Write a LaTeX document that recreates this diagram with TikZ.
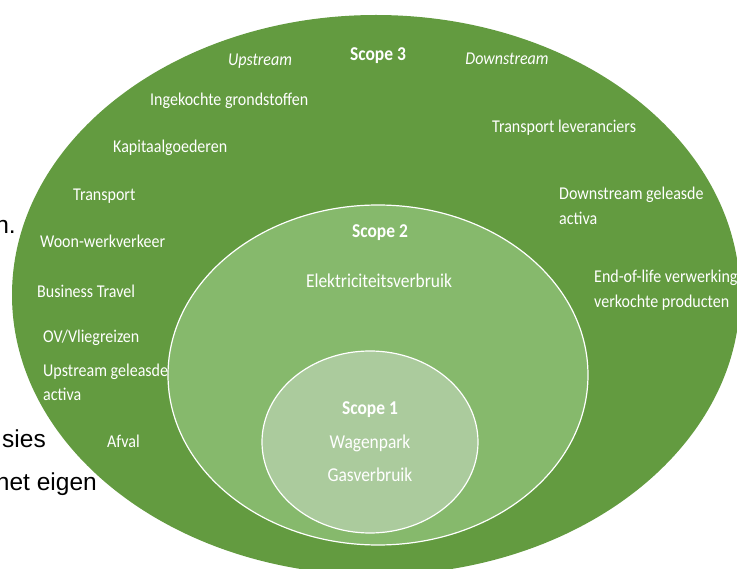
\documentclass[tikz,border=0pt]{standalone}
\usepackage{fontspec}
\setmainfont{Carlito}[FakeStretch=0.89]
\newfontfamily\pagefont{Liberation Sans}
\definecolor{scopethree}{RGB}{99,155,64}
\definecolor{scopetwo}{RGB}{134,185,108}
\definecolor{scopeone}{RGB}{171,203,157}
\begin{document}
\begin{tikzpicture}[x=1pt,y=-1pt]
  \tikzstyle{ring}=[draw=white,line width=1.2pt]
  \tikzstyle{item}=[text=white,inner sep=0pt,anchor=base west,font=\fontsize{18}{21}\selectfont]
  \tikzstyle{mid}=[text=white,inner sep=0pt,anchor=base,font=\fontsize{19.6}{23}\selectfont]
  \tikzstyle{hdr}=[mid,font=\fontsize{19.6}{23}\selectfont\bfseries]
  \tikzstyle{page}=[text=black,inner sep=0pt,anchor=base east,font=\pagefont\fontsize{24.5}{28}\selectfont]
  \useasboundingbox (0,0) rectangle (737,569);
  \clip (0,0) rectangle (737,569);
  \fill[scopethree] (376,295) ellipse [x radius=364, y radius=280];
  \filldraw[ring,fill=scopetwo] (378,375) ellipse [x radius=210, y radius=170];
  \filldraw[ring,fill=scopeone] (370,442) ellipse [x radius=108, y radius=91];
  % scope 3
  \node[hdr] (s3) at (378,61) {Scope 3};
  \node[item,anchor=base] (up) at (260,66) {\itshape Upstream};
  \node[item,anchor=base] (down) at (507,65) {\itshape Downstream};
  \node[item] (grond) at (150,106) {Ingekochte grondstoffen};
  \node[item] (kapitaal) at (113,153) {Kapitaalgoederen};
  \node[item] (transp) at (73,201) {Transport};
  \node[item] (woon) at (40,248) {Woon-werkverkeer};
  \node[item] (travel) at (37,298) {Business Travel};
  \node[item] (ov) at (43,343) {OV/Vliegreizen};
  \node[item] (uplease) at (43,377) {Upstream geleasde};
  \node[item] (upact) at (43,401) {activa};
  \node[item] (afval) at (107,448) {Afval};
  \node[item] (lev) at (492,133) {Transport leveranciers};
  \node[item] (downlease) at (559,200) {Downstream geleasde};
  \node[item] (downact) at (559,225) {activa};
  \node[item] (eol) at (594,283) {End-of-life verwerking};
  \node[item] (verk) at (594,308) {verkochte producten};
  % scope 2
  \node[hdr] (s2) at (380,238) {Scope 2};
  \node[mid] (elek) at (379,288) {Elektriciteitsverbruik};
  % scope 1
  \node[hdr] (s1) at (370,415) {Scope 1};
  \node[mid] (wagen) at (370,449) {Wagenpark};
  \node[mid] (gas) at (370,482) {Gasverbruik};
  % tekst van de pagina
  \node[page] (frag1) at (16,234) {n.};
  \node[page] (frag2) at (46,448) {sies};
  \node[page] (frag3) at (97,490) {net eigen};
\end{tikzpicture}
\end{document}
